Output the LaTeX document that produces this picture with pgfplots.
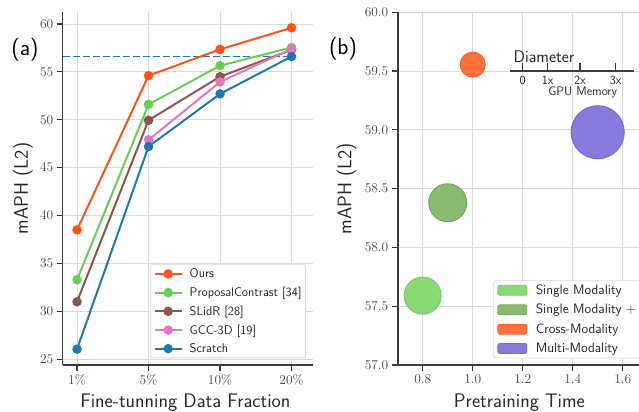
\documentclass[border=0pt]{standalone}
\usepackage{fix-cm}
\usepackage{fontspec}
\usepackage{pgfplots}
\pgfplotsset{compat=1.18}
\definecolor{cOurs}{RGB}{255,82,22}
\definecolor{cProp}{RGB}{102,208,82}
\definecolor{cSlid}{RGB}{140,86,75}
\definecolor{cGcc}{RGB}{227,119,194}
\definecolor{cScr}{RGB}{31,119,180}
\definecolor{spine}{RGB}{60,60,60}
\definecolor{gridc}{RGB}{218,218,218}
\definecolor{txt}{RGB}{40,40,40}
\definecolor{ticktxt}{RGB}{70,70,70}
\definecolor{lgF}{RGB}{137,217,117}
\definecolor{lgE}{RGB}{118,206,98}
\definecolor{dgF}{RGB}{136,186,112}
\definecolor{dgE}{RGB}{116,170,94}
\definecolor{rdF}{RGB}{255,112,60}
\definecolor{rdE}{RGB}{255,92,40}
\definecolor{puF}{RGB}{136,122,220}
\definecolor{puE}{RGB}{118,104,214}
\pgfplotsset{
  mystyle/.style={
    scale only axis,
    axis x line*=bottom, axis y line*=left,
    axis line style={spine, line width=1.6pt},
    every tick/.style={spine, line width=1.2pt},
    tick align=outside, major tick length=6bp,
    grid=major,
    major grid style={gridc, line width=0.9pt},
    tick label style={font=\fontsize{13.5}{15}\selectfont, text=ticktxt},
    label style={font=\sffamily\fontsize{19.7}{23}\selectfont, text=txt},
  }
}
\begin{document}
\begin{tikzpicture}
\useasboundingbox (0,0) rectangle (639bp,412bp);
\begin{axis}[mystyle,
  at={(62.7bp,47bp)}, anchor=south west,
  width=250.3bp, height=353bp,
  xmin=-0.2, xmax=3.3, ymin=24.4, ymax=61.25,
  xtick={0,1,2,3}, xticklabels={1\%,5\%,10\%,20\%},
  ytick={25,30,35,40,45,50,55,60},
  xlabel={Fine-tunning Data Fraction},
  ylabel={mAPH (L2)},
  xlabel style={at={(axis description cs:0.49,-0.108)}, anchor=center},
  ylabel style={at={(axis description cs:-0.159,0.5)}, anchor=center},
  legend cell align=left,
  legend style={at={(axis description cs:0.972,0.019)}, anchor=south east,
    draw=gridc, fill=white, rounded corners=2bp, line width=0.8pt,
    font=\sffamily\fontsize{12.6}{14}\selectfont, text=txt,
    row sep=3.9bp, inner xsep=2bp, inner ysep=2bp},
  legend image code/.code={\path[draw=none,fill=none] (-2bp,0bp) -- (33bp,0bp);\draw[mark repeat=2,mark phase=2,#1] plot coordinates {(0bp,0bp) (13.5bp,0bp) (27bp,0bp)};},
  every axis plot/.append style={line width=2pt, mark=*, mark size=3.7bp},
]
\addplot[cScr, dash pattern=on 7bp off 3bp, line width=1.8pt, mark=none, forget plot] coordinates {(-0.2,56.6) (3,56.6)};
\addplot[cOurs, mark options={fill=cOurs, draw=cOurs}] coordinates {(0,38.5) (1,54.6) (2,57.35) (3,59.6)};
\addlegendentry{Ours}
\addplot[cProp, mark options={fill=cProp, draw=cProp}] coordinates {(0,33.3) (1,51.6) (2,55.65) (3,57.55)};
\addlegendentry{ProposalContrast [34]}
\addplot[cSlid, mark options={fill=cSlid, draw=cSlid}] coordinates {(0,31.0) (1,49.95) (2,54.5) (3,57.3)};
\addlegendentry{SLidR [28]}
\addplot[cGcc, mark options={fill=cGcc, draw=cGcc}] coordinates {(1,47.9) (2,53.95) (3,57.4)};
\addlegendentry{GCC-3D [19]}
\addplot[cScr, mark options={fill=cScr, draw=cScr}] coordinates {(0,26.05) (1,47.2) (2,52.7) (3,56.6)};
\addlegendentry{Scratch}
\end{axis}
\begin{axis}[mystyle,
  at={(397.7bp,47bp)}, anchor=south west,
  width=250bp, height=352.7bp,
  xmin=0.7, xmax=1.7, ymin=57, ymax=60,
  xtick={0.8,1.0,1.2,1.4,1.6},
  ytick={57,57.5,58,58.5,59,59.5,60},
  xticklabel style={/pgf/number format/.cd, fixed, fixed zerofill, precision=1},
  yticklabel style={/pgf/number format/.cd, fixed, fixed zerofill, precision=1},
  xlabel={Pretraining Time},
  ylabel={mAPH (L2)},
  xlabel style={at={(axis description cs:0.487,-0.108)}, anchor=center},
  ylabel style={at={(axis description cs:-0.205,0.5)}, anchor=center},
  legend cell align=left,
  legend style={at={(axis description cs:0.972,0.019)}, anchor=south east,
    draw=gridc, fill=white, rounded corners=2bp, line width=0.8pt,
    font=\sffamily\fontsize{13.6}{15}\selectfont, text=txt,
    row sep=4.3bp, inner xsep=2bp, inner ysep=2bp},
]
\addplot[only marks, mark=*, mark size=18.5bp, mark options={fill=lgF, draw=lgE, line width=1pt},
  legend image code/.code={\path[draw=none,fill=none] (-2bp,0bp) -- (36bp,0bp);\draw[fill=lgF, draw=lgE, line width=0.8pt] (0bp,-5bp) rectangle (29bp,5bp);}]
  coordinates {(0.8,57.59)};
\addlegendentry{Single Modality}
\addplot[only marks, mark=*, mark size=19bp, mark options={fill=dgF, draw=dgE, line width=1pt},
  legend image code/.code={\path[draw=none,fill=none] (-2bp,0bp) -- (36bp,0bp);\draw[fill=dgF, draw=dgE, line width=0.8pt] (0bp,-5bp) rectangle (29bp,5bp);}]
  coordinates {(0.9,58.38)};
\addlegendentry{Single Modality $+$}
\addplot[only marks, mark=*, mark size=12.5bp, mark options={fill=rdF, draw=rdE, line width=1pt},
  legend image code/.code={\path[draw=none,fill=none] (-2bp,0bp) -- (36bp,0bp);\draw[fill=rdF, draw=rdE, line width=0.8pt] (0bp,-5bp) rectangle (29bp,5bp);}]
  coordinates {(1.0,59.555)};
\addlegendentry{Cross-Modality}
\addplot[only marks, mark=*, mark size=26.5bp, mark options={fill=puF, draw=puE, line width=1pt},
  legend image code/.code={\path[draw=none,fill=none] (-2bp,0bp) -- (36bp,0bp);\draw[fill=puF, draw=puE, line width=0.8pt] (0bp,-5bp) rectangle (29bp,5bp);}]
  coordinates {(1.5,58.98)};
\addlegendentry{Multi-Modality}
% diameter scale annotation
\draw[spine, line width=1.3pt] (axis cs:1.149,59.5) -- (axis cs:1.645,59.5);
\draw[spine, line width=1.1pt] (axis cs:1.2,59.5) -- (axis cs:1.2,59.565);
\draw[spine, line width=1.1pt] (axis cs:1.3,59.5) -- (axis cs:1.3,59.565);
\draw[spine, line width=1.1pt] (axis cs:1.429,59.5) -- (axis cs:1.429,59.565);
\draw[spine, line width=1.1pt] (axis cs:1.572,59.5) -- (axis cs:1.572,59.565);
\node[font=\sffamily\fontsize{12.5}{14}\selectfont, text=txt] at (axis cs:1.2,59.421) {0};
\node[font=\sffamily\fontsize{12.5}{14}\selectfont, text=txt] at (axis cs:1.3,59.421) {1x};
\node[font=\sffamily\fontsize{12.5}{14}\selectfont, text=txt] at (axis cs:1.429,59.421) {2x};
\node[font=\sffamily\fontsize{12.5}{14}\selectfont, text=txt] at (axis cs:1.572,59.421) {3x};
\node[font=\sffamily\fontsize{12.4}{14}\selectfont, text=txt] at (axis cs:1.44,59.318) {GPU Memory};
\node[font=\sffamily\fontsize{17}{19}\selectfont, text=txt] at (axis cs:1.285,59.625) {Diameter};
\end{axis}
\node[font=\sffamily\fontsize{23}{26}\selectfont, text=black] at (25bp,362bp) {(a)};
\node[font=\sffamily\fontsize{23}{26}\selectfont, text=black] at (343bp,363.5bp) {(b)};
\end{tikzpicture}
\end{document}
